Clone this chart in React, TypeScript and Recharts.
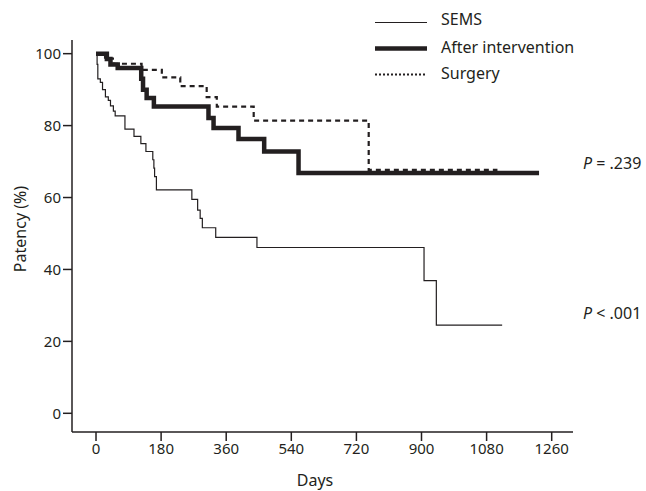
import React from 'react';
import { LineChart, Line, XAxis, YAxis } from 'recharts';

const semsDays = [0, 3, 5, 12, 18, 26, 34, 40, 48, 53, 80, 105, 124, 138, 157, 160, 162, 167, 265, 281, 288, 294, 331, 445, 907, 941, 1123];
const semsValues = [100, 97, 93, 92, 90, 88, 87, 85.5, 84, 82.7, 79, 77, 75, 72.8, 70.5, 68.2, 65.8, 62.1, 59.5, 56.5, 54.2, 51.6, 48.9, 46.1, 36.9, 24.5, 24.5];

const afterDays = [0, 30, 40, 60, 125, 130, 140, 160, 311, 325, 394, 465, 560, 1225];
const afterValues = [100, 98.5, 97, 96, 93, 90, 87.7, 85.3, 82.1, 79.3, 76.3, 72.8, 66.8, 66.8];

const surgeryDays = [0, 25, 50, 126, 182, 233, 306, 334, 436, 754, 1110];
const surgeryValues = [100, 98.6, 97.2, 95.5, 93.4, 91, 87.9, 85.3, 81.4, 67.7, 67.7];

const xTicks = [0, 180, 360, 540, 720, 900, 1080, 1260];
const yTicks = [0, 20, 40, 60, 80, 100];

const legendItems = ['SEMS', 'After intervention', 'Surgery'];
const pLabels = ['P = .239', 'P < .001'];

const toData = (days: number[], vals: number[]) => days.map((d, i) => ({ day: d, v: vals[i] }));

const INK = '#231f20';
const FONT = "'Noto Sans', sans-serif";

export default function App() {
  const semsData = toData(semsDays, semsValues);
  const afterData = toData(afterDays, afterValues);
  const surgeryData = toData(surgeryDays, surgeryValues);
  return (
    <div style={{ position: 'absolute', left: 0, top: 0, width: 646, height: 491, background: '#fff' }}>
      <LineChart width={646} height={491} margin={{ top: 40, right: 73, bottom: 0, left: 0 }}>
        <XAxis
          dataKey="day"
          type="number"
          domain={[-66.4, 1318.9]}
          ticks={xTicks}
          interval={0}
          allowDataOverflow
          height={59}
          tickSize={9}
          stroke={INK}
          strokeWidth={1.5}
          tick={{ fill: INK, fontSize: 15, fontFamily: FONT }}
        />
        <YAxis
          type="number"
          domain={[-5.2, 103.8]}
          ticks={yTicks}
          interval={0}
          allowDataOverflow
          width={72}
          tickSize={9}
          stroke={INK}
          strokeWidth={1.5}
          tick={{ fill: INK, fontSize: 15, fontFamily: FONT }}
        />
        <Line data={semsData} dataKey="v" type="stepAfter" stroke={INK} strokeWidth={1.2} dot={false} isAnimationActive={false} />
        <Line data={afterData} dataKey="v" type="stepAfter" stroke={INK} strokeWidth={4.5} dot={false} isAnimationActive={false} />
        <Line data={surgeryData} dataKey="v" type="stepAfter" stroke={INK} strokeWidth={2.2} strokeDasharray="5 4" dot={false} isAnimationActive={false} />
      </LineChart>
      <svg width={646} height={491} style={{ position: 'absolute', left: 0, top: 0, pointerEvents: 'none' }}>
        <g fontFamily={FONT} fontSize={16} fill={INK}>
          <line x1={375} x2={427} y1={22.5} y2={22.5} stroke={INK} strokeWidth={1.2} />
          <text x={441} y={24.5}>{legendItems[0]}</text>
          <line x1={375} x2={427} y1={48.5} y2={48.5} stroke={INK} strokeWidth={4.5} />
          <text x={441} y={52.5}>{legendItems[1]}</text>
          <line x1={375} x2={427} y1={74.5} y2={74.5} stroke={INK} strokeWidth={1.8} strokeDasharray="2 2" />
          <text x={441} y={79}>{legendItems[2]}</text>
          <text x={583} y={168.5}>
            <tspan fontStyle="italic">P</tspan>
            {pLabels[0].slice(1)}
          </text>
          <text x={583} y={318.5}>
            <tspan fontStyle="italic">P</tspan>
            {pLabels[1].slice(1)}
          </text>
          <text x={315} y={486} textAnchor="middle">Days</text>
          <text x={20} y={229} textAnchor="middle" dominantBaseline="central" transform="rotate(-90 20 229)">Patency (%)</text>
        </g>
      </svg>
    </div>
  );
}
